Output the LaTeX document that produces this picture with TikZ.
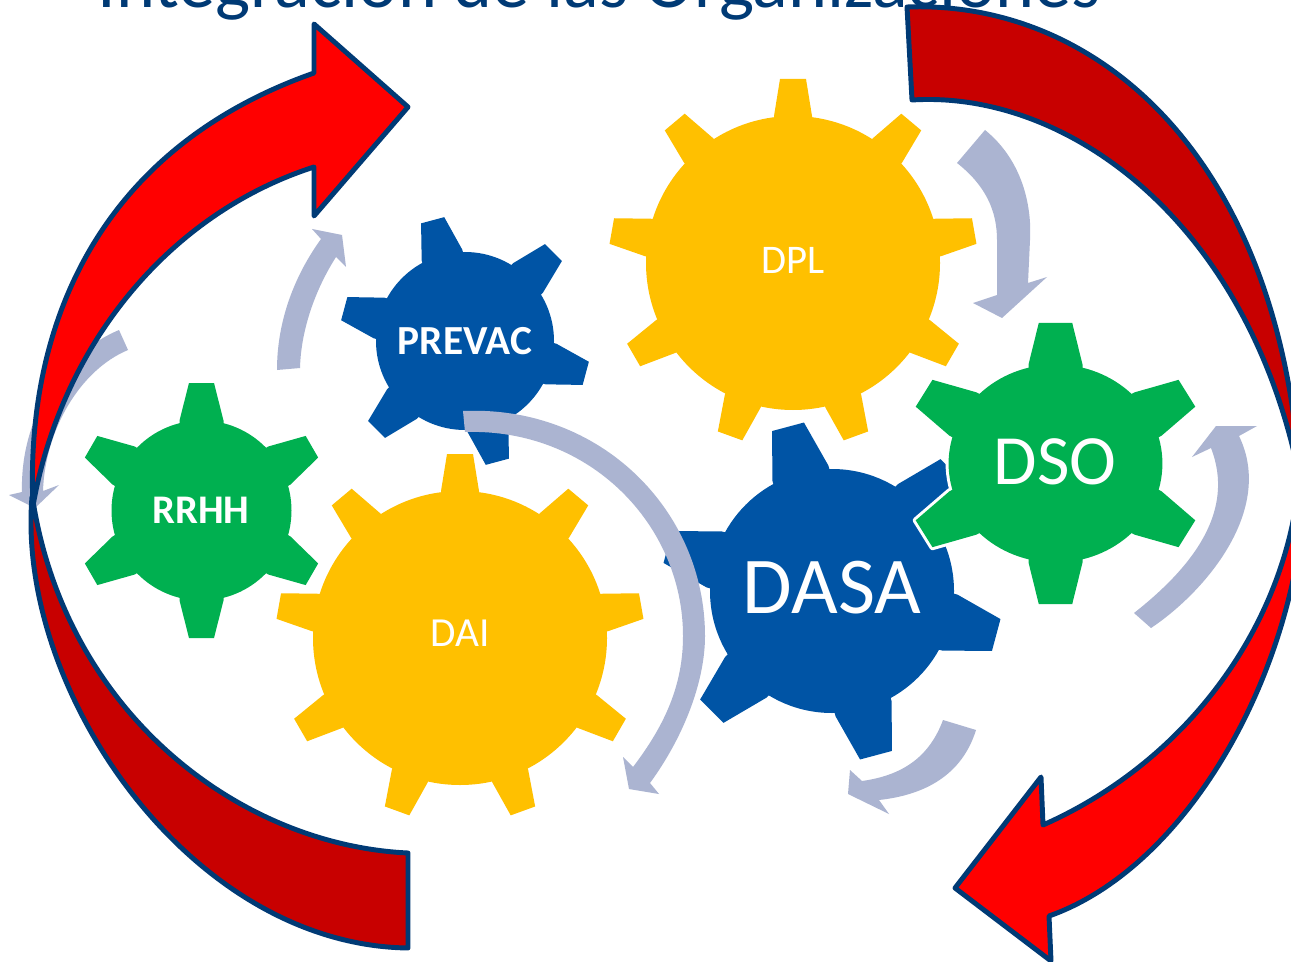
\documentclass[tikz,border=0pt]{standalone}
\usepackage{fontspec}
\setmainfont{Carlito}
\definecolor{gold}{HTML}{FFC000}
\definecolor{gearGreen}{HTML}{00B050}
\definecolor{gearBlue}{HTML}{0054A5}
\definecolor{arcRed}{HTML}{FF0000}
\definecolor{arcDark}{HTML}{C80000}
\definecolor{navyLine}{HTML}{003A75}
\definecolor{paleArrow}{HTML}{ABB4D1}
\newcommand{\gearshape}[9]{%
  \begin{scope}[shift={#2},xscale=#3]
    \path[#1] (0,0) circle[radius=#4];
    \foreach \k in {1,...,#8}{%
      \pgfmathsetmacro{\ang}{#9+360/#8*\k}
      \path[#1,rotate=\ang] ({#4-6},-#6) -- (#4,-#6) -- (#5,-#7) -- (#5,#7) -- (#4,#6) -- ({#4-6},#6) -- cycle;
    }
  \end{scope}}
\tikzset{
  redarc/.style={fill=arcRed,draw=navyLine,line width=3.7pt,line join=round},
  darkarc/.style={fill=arcDark,draw=navyLine,line width=3.7pt,line join=round},
  palearc/.style={fill=paleArrow},
  label/.style={text=white,inner sep=0pt,anchor=center}
}
\begin{document}
\begin{tikzpicture}[x=0.75pt,y=-0.75pt]
\clip (0,0) rectangle (1291,962);
\fill[white] (0,0) rectangle (1291,962);
% title
\node[text=navyLine,inner sep=0pt,anchor=base] (title) at (599,8) {\fontsize{55.7}{60}\selectfont Integración de las Organizaciones};
% gears
\gearshape{fill=gold}{(793,263)}{1}{147}{184}{19}{13}{9}{90}
\gearshape{fill=gold}{(460,638)}{1}{147}{184}{19}{13}{9}{90}
\gearshape{fill=gearGreen}{(201.5,510.5)}{1}{90}{127.5}{22}{12.5}{6}{90}
\gearshape{fill=gearBlue}{(465,341)}{1}{89}{125}{21}{12}{6}{105}
\gearshape{fill=gearBlue}{(832,591)}{1}{122}{170}{29}{16.5}{6}{105}
\gearshape{draw=white,fill=white,line width=4.5pt,line join=round}{(1055.5,463.5)}{1.08}{99}{140.5}{25}{15.5}{6}{90}
\gearshape{fill=gearGreen}{(1055.5,463.5)}{1.08}{99}{140.5}{25}{15.5}{6}{90}
% gear labels
\node[label] (dpl) at (793,260) {\fontsize{30.5}{32}\selectfont DPL};
\node[label] (dai) at (460,633) {\fontsize{31}{32}\selectfont DAI};
\node[label] (rrhh) at (201,510) {\fontsize{30.5}{32}\selectfont\bfseries RRHH};
\node[label] (prevac) at (465,341) {\fontsize{31}{32}\selectfont\bfseries PREVAC};
\node[label] (dso) at (1055,462) {\fontsize{53}{54}\selectfont DSO};
\node[label] (dasa) at (832,588) {\fontsize{60.5}{64}\selectfont DASA};
% pale arrows
\fill[palearc] (277,370) .. controls (277,320) and (295,275) .. (321,239)
  -- (312,229) -- (342,235) -- (346,267) -- (336,257)
  .. controls (315,290) and (301,330) .. (300,368) -- cycle;
\fill[palearc] (119,330) .. controls (60,355) and (20,420) .. (22,492)
  -- (9,495) -- (35,508) -- (59,485) -- (43,491)
  .. controls (45,430) and (80,370) .. (128,350) -- cycle;
\fill[palearc] (463,411) .. controls (600,405) and (705,510) .. (705,636)
  .. controls (705,680) and (685,735) .. (650,783)
  -- (659,794) -- (629,789) -- (623,757) -- (633,767)
  .. controls (665,725) and (683,685) .. (683,636)
  .. controls (683,525) and (590,428) .. (465,432) -- cycle;
\fill[palearc] (985,130) .. controls (1022,160) and (1032,205) .. (1030,240) -- (1028,283)
  -- (1047,277) -- (1002,318) -- (973,303) -- (997,295) -- (997,240)
  .. controls (997,210) and (985,185) .. (957,163) -- cycle;
\fill[palearc] (1134,613) -- (1151,628)
  .. controls (1205,592) and (1275,510) .. (1239,436)
  -- (1257,426) -- (1216,426) -- (1192,457) -- (1211,448)
  .. controls (1235,510) and (1195,565) .. (1134,613) -- cycle;
\fill[palearc] (943,720) -- (976,730)
  .. controls (962,775) and (925,795) .. (879,800)
  -- (889,814) -- (848,794) -- (850,770) -- (862,781)
  .. controls (905,775) and (930,755) .. (943,720) -- cycle;
% big arcs
\path[darkarc] (32,497) .. controls (16,690) and (190,945) .. (408,948)
  -- (408,853) .. controls (240,845) and (70,715) .. (34,507) -- cycle;
\path[redarc] (33,506) .. controls (25,330) and (95,150) .. (314,73)
  -- (314,24) -- (408,107) -- (314,216) -- (314,167)
  .. controls (165,215) and (60,350) .. (33,506) -- cycle;
\path[darkarc] (907,7) .. controls (1100,0) and (1280,160) .. (1300,480)
  .. controls (1250,225) and (1070,90) .. (912,100) -- cycle;
\path[redarc] (1300,470) .. controls (1290,620) and (1190,760) .. (1043,825)
  -- (1041,777) -- (955,888) -- (1051,961) -- (1049,916)
  .. controls (1180,870) and (1290,690) .. (1305,500) -- cycle;
\end{tikzpicture}
\end{document}
